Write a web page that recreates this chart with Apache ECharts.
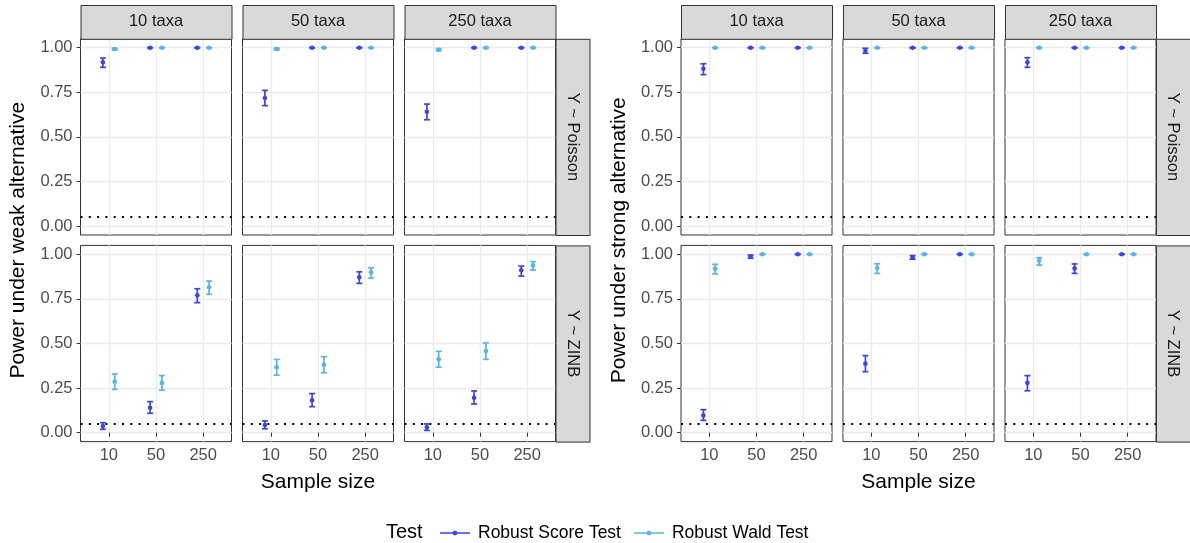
<!DOCTYPE html>
<html>
<head>
<meta charset="utf-8">
<script src="https://cdn.jsdelivr.net/npm/echarts@6/dist/echarts.min.js"></script>
<style>
html,body{margin:0;padding:0;background:#fff}
#main{width:1190px;height:543px}
</style>
</head>
<body>
<div id="main"></div>
<script>
// categories
let sampleSizes = ['10', '50', '250']
let taxaLabels = ['10 taxa', '50 taxa', '250 taxa']
let modelLabels = ['Y ~ Poisson', 'Y ~ ZINB']
let testNames = ['Robust Score Test', 'Robust Wald Test']
let yTicks = [0, 0.25, 0.5, 0.75, 1]
let nullLevel = 0.05

// [estimate, lower, upper] per sample size, one row per taxa count
let weakPoissonScore = [
    [[0.918, 0.890, 0.942], [1, 1, 1], [1, 1, 1]],
    [[0.718, 0.675, 0.761], [1, 1, 1], [1, 1, 1]],
    [[0.641, 0.596, 0.684], [1, 1, 1], [1, 1, 1]]
]
let weakPoissonWald = [
    [[0.993, 0.988, 0.997], [1, 1, 1], [1, 1, 1]],
    [[0.993, 0.988, 0.997], [1, 1, 1], [1, 1, 1]],
    [[0.989, 0.983, 0.995], [1, 1, 1], [1, 1, 1]]
]
let weakZinbScore = [
    [[0.037, 0.019, 0.056], [0.140, 0.109, 0.174], [0.770, 0.729, 0.807]],
    [[0.043, 0.022, 0.066], [0.182, 0.146, 0.219], [0.871, 0.837, 0.902]],
    [[0.030, 0.013, 0.049], [0.196, 0.161, 0.234], [0.910, 0.878, 0.934]]
]
let weakZinbWald = [
    [[0.286, 0.243, 0.329], [0.279, 0.238, 0.320], [0.815, 0.776, 0.850]],
    [[0.367, 0.323, 0.411], [0.381, 0.336, 0.426], [0.899, 0.867, 0.925]],
    [[0.411, 0.367, 0.456], [0.458, 0.411, 0.503], [0.938, 0.912, 0.959]]
]
let strongPoissonScore = [
    [[0.882, 0.849, 0.910], [1, 1, 1], [1, 1, 1]],
    [[0.983, 0.969, 0.997], [1, 1, 1], [1, 1, 1]],
    [[0.918, 0.890, 0.944], [1, 1, 1], [1, 1, 1]]
]
let strongPoissonWald = [
    [[1, 1, 1], [1, 1, 1], [1, 1, 1]],
    [[1, 1, 1], [1, 1, 1], [1, 1, 1]],
    [[1, 1, 1], [1, 1, 1], [1, 1, 1]]
]
let strongZinbScore = [
    [[0.097, 0.069, 0.129], [0.988, 0.978, 0.996], [1, 1, 1]],
    [[0.387, 0.342, 0.432], [0.983, 0.973, 0.993], [1, 1, 1]],
    [[0.279, 0.235, 0.320], [0.921, 0.893, 0.946], [1, 1, 1]]
]
let strongZinbWald = [
    [[0.919, 0.890, 0.944], [1, 1, 1], [1, 1, 1]],
    [[0.923, 0.893, 0.947], [1, 1, 1], [1, 1, 1]],
    [[0.964, 0.940, 0.981], [1, 1, 1], [1, 1, 1]]
]

// [alternative][model][test]
let powerData = [
    [[weakPoissonScore, weakPoissonWald], [weakZinbScore, weakZinbWald]],
    [[strongPoissonScore, strongPoissonWald], [strongZinbScore, strongZinbWald]]
]
let yTitles = ['Power under weak alternative', 'Power under strong alternative']

let testColors = ['#3a45e8', '#56b4e9']
let dodge = [-0.125, 0.125]

// layout
let groupLeft = [80.5, 681]
let rowTop = [38.8, 245.4]
let panelW = 151
let panelH = 196.2
let panelGap = 11
let stripH = 33.8
let stripW = 34
let font = 'Liberation Sans, Arial, sans-serif'

function errorBarRender(color, offset) {
    return function (params, api) {
        let x = api.value(0) + offset
        let p = api.coord([x, api.value(1)])
        let lo = api.coord([x, api.value(2)])
        let hi = api.coord([x, api.value(3)])
        let cap = 3
        let st = { stroke: color, lineWidth: 1.7 }
        return {
            type: 'group',
            children: [
                { type: 'line', shape: { x1: lo[0], y1: lo[1], x2: hi[0], y2: hi[1] }, style: st },
                { type: 'line', shape: { x1: lo[0] - cap, y1: lo[1], x2: lo[0] + cap, y2: lo[1] }, style: st },
                { type: 'line', shape: { x1: hi[0] - cap, y1: hi[1], x2: hi[0] + cap, y2: hi[1] }, style: st },
                { type: 'circle', shape: { cx: p[0], cy: p[1], r: 2.3 }, style: { fill: color } }
            ]
        }
    }
}

let grids = []
let xAxes = []
let yAxes = []
let series = []
let graphics = []

for (let g = 0; g < 2; g++) {
    for (let r = 0; r < 2; r++) {
        for (let c = 0; c < 3; c++) {
            let idx = grids.length
            let left = groupLeft[g] + c * (panelW + panelGap)
            grids.push({
                left: left, top: rowTop[r], width: panelW, height: panelH,
                show: true, borderColor: '#333', borderWidth: 1, backgroundColor: '#fff'
            })
            xAxes.push({
                type: 'value', gridIndex: idx, min: 0.4, max: 3.6,
                axisLine: { show: false },
                axisTick: { show: r === 1, customValues: [1, 2, 3], length: 4, lineStyle: { color: '#333' } },
                axisLabel: {
                    show: r === 1, customValues: [1, 2, 3], margin: 5,
                    fontSize: 16.5, color: '#4d4d4d', fontFamily: font,
                    formatter: v => sampleSizes[Math.round(v) - 1]
                },
                splitLine: { show: true, lineStyle: { color: '#ebebeb', width: 1.4 } }
            })
            yAxes.push({
                type: 'value', gridIndex: idx, min: -0.05, max: 1.05,
                axisLine: { show: false },
                axisTick: { show: c === 0, customValues: yTicks, length: 4, lineStyle: { color: '#333' } },
                axisLabel: {
                    show: c === 0, customValues: yTicks, margin: 8,
                    fontSize: 16.5, color: '#4d4d4d', fontFamily: font,
                    formatter: v => v.toFixed(2)
                },
                splitLine: { show: true, lineStyle: { color: '#ebebeb', width: 1.4 } }
            })
            for (let t = 0; t < 2; t++) {
                let rows = powerData[g][r][t][c]
                let s = {
                    name: testNames[t],
                    type: 'custom',
                    xAxisIndex: idx, yAxisIndex: idx,
                    itemStyle: { color: testColors[t] },
                    renderItem: errorBarRender(testColors[t], dodge[t]),
                    data: rows.map((d, i) => [i + 1, d[0], d[1], d[2]]),
                    z: 5 + t
                }
                if (t === 0) {
                    s.markLine = {
                        silent: true, symbol: 'none', animation: false,
                        label: { show: false },
                        lineStyle: { color: '#000', type: [2, 6.3], width: 2 },
                        data: [{ yAxis: nullLevel }]
                    }
                }
                series.push(s)
            }
            // top strips
            if (r === 0) {
                graphics.push({
                    type: 'rect', left: left, top: rowTop[0] - stripH, z: 10,
                    shape: { width: panelW, height: stripH },
                    style: { fill: '#d9d9d9', stroke: '#333', lineWidth: 1 }
                })
                graphics.push({
                    type: 'text', x: left + panelW / 2, y: rowTop[0] - stripH / 2, z: 11,
                    style: { text: taxaLabels[c], fill: '#1a1a1a', font: '16.5px ' + font, align: 'center', verticalAlign: 'middle' }
                })
            }
        }
        // right strips
        let sx = groupLeft[g] + 3 * panelW + 2 * panelGap
        graphics.push({
            type: 'rect', left: sx, top: rowTop[r], z: 10,
            shape: { width: stripW, height: panelH },
            style: { fill: '#d9d9d9', stroke: '#333', lineWidth: 1 }
        })
        graphics.push({
            type: 'text', x: sx + stripW / 2, y: rowTop[r] + panelH / 2, rotation: -Math.PI / 2, z: 11,
            style: { text: modelLabels[r], fill: '#1a1a1a', font: '16.5px ' + font, align: 'center', verticalAlign: 'middle' }
        })
    }
    // axis titles
    let midX = groupLeft[g] + (3 * panelW + 2 * panelGap) / 2
    graphics.push({
        type: 'text', x: midX, y: 482,
        style: { text: 'Sample size', fill: '#000', font: '21px ' + font, align: 'center', verticalAlign: 'middle' }
    })
    graphics.push({
        type: 'text', x: groupLeft[g] - 62, y: (rowTop[0] + rowTop[1] + panelH) / 2, rotation: Math.PI / 2,
        style: { text: yTitles[g], fill: '#000', font: '21px ' + font, align: 'center', verticalAlign: 'middle' }
    })
}

// legend title
graphics.push({
    type: 'text', x: 386, y: 532,
    style: { text: 'Test', fill: '#000', font: '20px ' + font, align: 'left', verticalAlign: 'middle' }
})

let myChart = echarts.init(document.getElementById('main'))
let option = {
    animation: false,
    backgroundColor: '#fff',
    grid: grids,
    xAxis: xAxes,
    yAxis: yAxes,
    legend: {
        data: testNames,
        left: 440, top: 524, padding: 0,
        itemWidth: 30, itemHeight: 4.6, itemGap: 13,
        icon: 'path://M0,4.3L12.7,4.3L13.3,3.2L14.3,2.7L15.7,2.7L16.7,3.2L17.3,4.3L30,4.3L30,5.7L17.3,5.7L16.7,6.8L15.7,7.3L14.3,7.3L13.3,6.8L12.7,5.7L0,5.7Z',
        textStyle: { fontSize: 17.5, color: '#000', fontFamily: font, padding: [0, 0, 0, 3] }
    },
    graphic: graphics,
    series: series
}
myChart.setOption(option)
</script>
</body>
</html>
